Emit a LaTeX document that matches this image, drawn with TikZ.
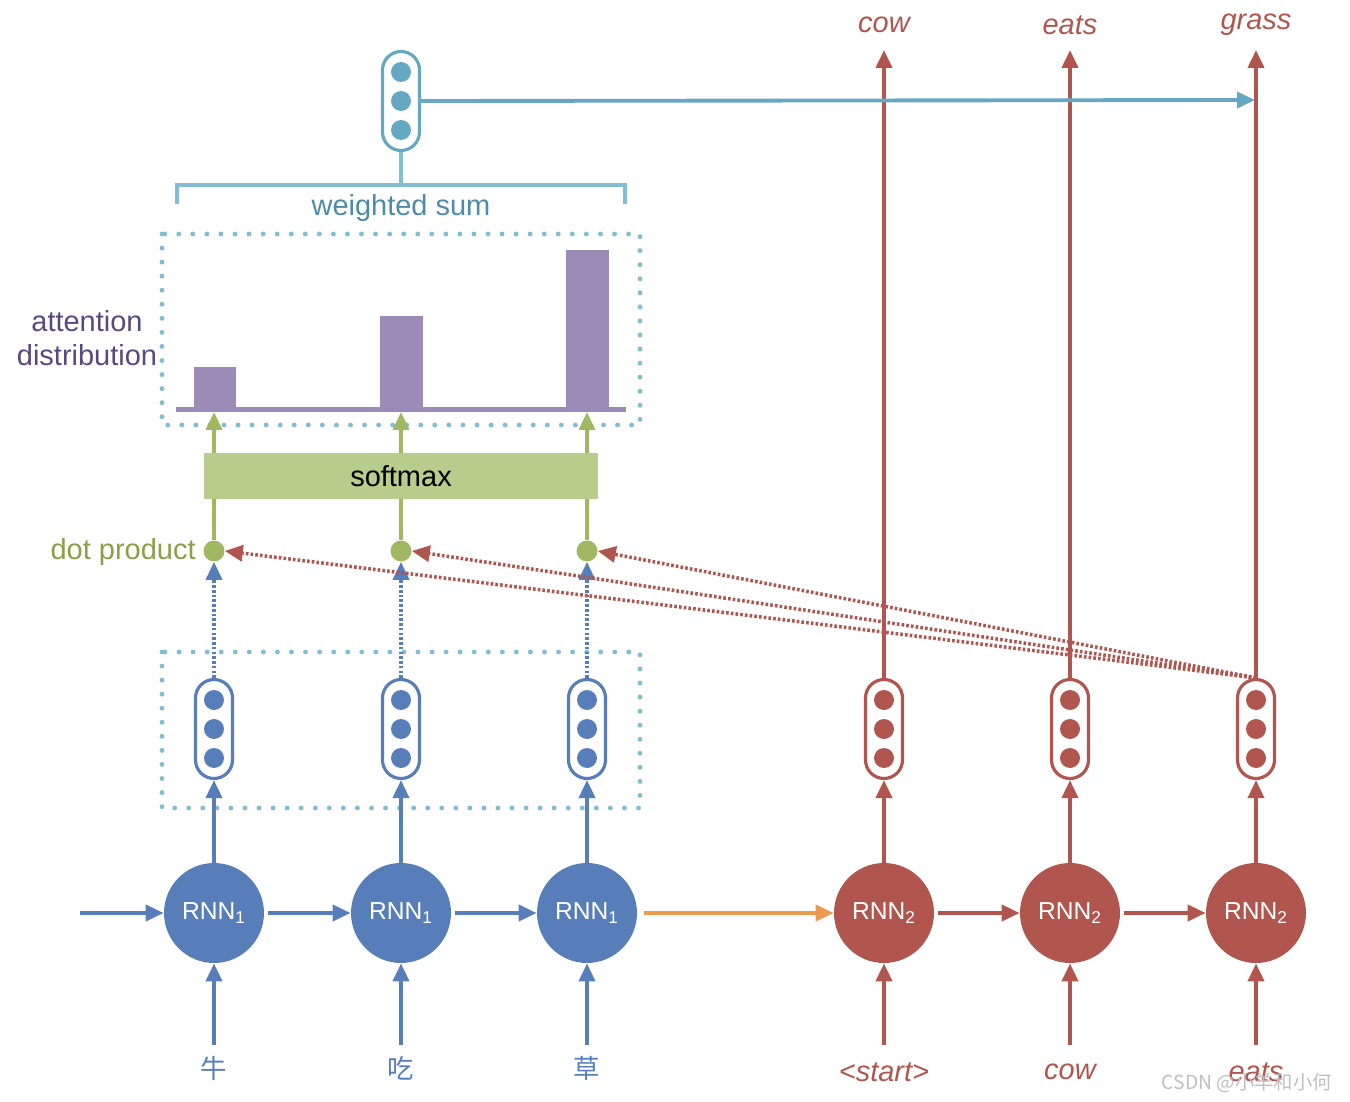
\documentclass[tikz,border=0pt]{standalone}
\usepackage{fontspec}
\setmainfont{Liberation Sans}
\newfontfamily\cjk{Noto Sans CJK SC}
\usetikzlibrary{arrows.meta}
\definecolor{encblue}{RGB}{88,126,186}
\definecolor{decred}{RGB}{176,86,78}
\definecolor{ctxteal}{RGB}{102,168,194}
\definecolor{boxblue}{RGB}{130,190,210}
\definecolor{barpurple}{RGB}{156,139,182}
\definecolor{dotgreen}{RGB}{160,184,98}
\definecolor{softgreen}{RGB}{184,204,140}
\definecolor{arrorange}{RGB}{236,154,80}
\definecolor{wsumtxt}{RGB}{76,140,168}
\definecolor{atttxt}{RGB}{88,74,126}
\definecolor{dptxt}{RGB}{140,158,70}

\begin{document}
\begin{tikzpicture}[x=0.02cm,y=-0.02cm,font=\fontsize{16.5}{19}\selectfont,
  >={Triangle[length=0.36cm,width=0.32cm]},
  rnnA/.style={circle,fill=encblue,minimum size=2cm,inner sep=0pt,text=white,
    font=\fontsize{14}{14}\selectfont},
  rnnB/.style={rnnA,fill=decred},
  vecbox/.style={draw=#1,fill=white,line width=1.8pt,minimum width=0.74cm,
    minimum height=1.98cm,rounded corners=0.37cm,inner sep=0pt},
  dotbox/.style={draw=boxblue,line width=2.8pt,line cap=round,
    dash pattern=on 0pt off 8pt},
  dp/.style={circle,fill=dotgreen,minimum size=0.42cm,inner sep=0pt},
  lineA/.style={->,draw=encblue,line width=2.2pt},
  lineB/.style={->,draw=decred,line width=2.2pt},
  itlab/.style={text=decred,font=\fontsize{16.5}{19}\selectfont\itshape},
  redots/.style={->,draw=decred,line width=2pt,dash pattern=on 1.5pt off 1.2pt},
  bluedots/.style={->,draw=encblue,line width=2pt,dash pattern=on 1.5pt off 1.2pt}]
  \useasboundingbox (0,0) rectangle (1350,1102);

  % dotted frames
  \draw[dotbox] (162,652) rectangle (640,808);
  \draw[dotbox] (162,234) rectangle (640,425);

  % attention bars
  \fill[barpurple] (176,407) rectangle (626,412);
  \fill[barpurple] (194,367) rectangle (236,410);
  \fill[barpurple] (380,316) rectangle (423,410);
  \fill[barpurple] (566,250) rectangle (609,410);

  % encoder
  \foreach \i/\x/\w in {1/214/牛,2/401/吃,3/587/草} {
    \node[rnnA] (e\i) at (\x,913) {RNN\textsubscript{1}};
    \node[vecbox=encblue] (he\i) at (\x,729) {};
    \foreach \d in {-29,0,29}
      \fill[encblue] (\x,729+\d) circle[radius=0.2cm];
    \node[dp] (dp\i) at (\x,551) {};
    \coordinate (in\i) at (\x,1045);
    \coordinate (bar\i) at (\x,412);
    \node[text=encblue,font=\cjk\fontsize{15}{15}\selectfont] (w\i) at (\x,1068) {\w};
    \draw[lineA] (in\i) -- (e\i.south);
    \draw[lineA] (e\i.north) -- (he\i.south);
    \draw[bluedots] (he\i.north) -- (dp\i.south);
    \draw[->,draw=dotgreen,line width=2.2pt] (dp\i.north) -- (bar\i);
  }
  \coordinate (start) at (80,913);
  \draw[lineA] (start) -- (e1.west);
  \draw[lineA,shorten <=2pt] (e1.east) -- (e2.west);
  \draw[lineA,shorten <=2pt] (e2.east) -- (e3.west);

  % decoder
  \foreach \i/\x/\w/\o in {1/884/{<start>}/cow,2/1070/cow/eats,3/1256/eats/grass} {
    \node[rnnB] (d\i) at (\x,913) {RNN\textsubscript{2}};
    \node[vecbox=decred] (hd\i) at (\x,729) {};
    \foreach \d in {-29,0,29}
      \fill[decred] (\x,729+\d) circle[radius=0.2cm];
    \coordinate (din\i) at (\x,1045);
    \coordinate (out\i) at (\x,50);
    \node[itlab] (dw\i) at (\x,1072) {\w};
    \node[itlab] (ow\i) at (\x,25) {\o};
    \draw[lineB] (din\i) -- (d\i.south);
    \draw[lineB] (d\i.north) -- (hd\i.south);
    \draw[lineB] (hd\i.north) -- (out\i);
  }
  \draw[lineB,shorten <=2pt] (d1.east) -- (d2.west);
  \draw[lineB,shorten <=2pt] (d2.east) -- (d3.west);
  \draw[->,draw=arrorange,line width=2.2pt,shorten <=4pt] (e3.east) -- (d1.west);

  % attention scores
  \foreach \i in {1,2,3}
    \draw[redots] (hd3.north) -- (dp\i.east);

  \node[fill=softgreen,minimum width=7.88cm,minimum height=0.92cm,inner sep=0pt]
    (soft) at (401,476) {softmax};

  % weighted sum
  \node[vecbox=ctxteal] (ctx) at (401,101) {};
  \foreach \d in {-29,0,29}
    \fill[ctxteal] (401,101+\d) circle[radius=0.2cm];
  \draw[draw=boxblue,line width=2.2pt] (177,204) -- (177,185) -- (625,185) -- (625,204);
  \draw[draw=boxblue,line width=2.2pt] (401,185) -- (ctx.south);
  \coordinate (ctxend) at (1255,100);
  \draw[->,draw=ctxteal,line width=2.2pt] (ctx.east) -- (ctxend);

  % labels
  \node[text=wsumtxt] (wsum) at (401,208) {weighted sum};
  \node[text=atttxt,align=center] (att) at (87,338) {attention\\distribution};
  \node[text=dptxt,anchor=east,inner sep=0pt] (dplab) at (196,552) {dot product};
  \node[text=black!25,anchor=east,font=\cjk\fontsize{11}{11}\selectfont] (mark) at (1338,1083) {CSDN @小羊和小何};
\end{tikzpicture}
\end{document}
